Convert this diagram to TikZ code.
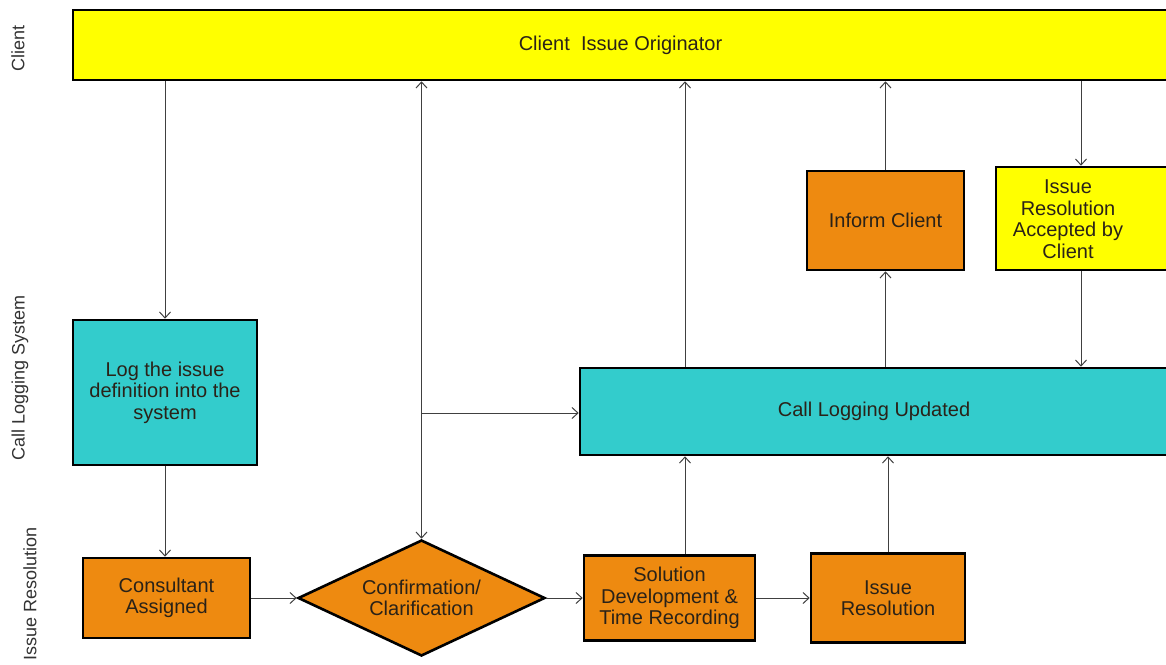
\documentclass[tikz,border=0pt]{standalone}
\usepackage{fontspec}
\setmainfont{Liberation Sans}
\usetikzlibrary{arrows.meta,shapes.geometric}
\definecolor{cyel}{HTML}{FFFF00}
\definecolor{ccyan}{HTML}{33CCCC}
\definecolor{corange}{HTML}{EE8A10}
\definecolor{ctext}{HTML}{2A2218}
\definecolor{carrow}{HTML}{404040}
\tikzset{
  box/.style={draw=black, line width=2.6pt, rectangle, inner sep=0pt, align=center,
    font=\fontsize{20}{21.5}\selectfont, text=ctext},
  ybox/.style={box, fill=cyel},
  cbox/.style={box, fill=ccyan},
  obox/.style={box, fill=corange},
  lane/.style={rotate=90, font=\fontsize{18}{20}\selectfont, text=black!80},
  arr/.style={draw=carrow, line width=1pt, -{Straight Barb[length=6pt,width=11pt]}},
  darr/.style={draw=carrow, line width=1pt, {Straight Barb[length=6pt,width=11pt]}-{Straight Barb[length=6pt,width=11pt]}},
}
\begin{document}
\begin{tikzpicture}[x=1pt,y=-1pt]
\useasboundingbox (0,0) rectangle (1166,664);
\clip (0,0) rectangle (1166,664);
\fill[white] (0,0) rectangle (1166,664);

% lane labels
\node[lane] (lclient) at (18,48) {Client};
\node[lane] (llog) at (20,378) {Call Logging System};
\node[lane] (lres) at (30,594) {Issue Resolution};

% nodes
\node[ybox, minimum width=1095pt, minimum height=70pt] (client) at (620.5,45) {\raisebox{-5pt}{Client\ \ Issue Originator}};
\node[cbox, minimum width=184pt, minimum height=145pt] (log) at (165,392.5) {Log the issue\\definition into the\\system};
\node[obox, minimum width=167pt, minimum height=80pt] (cons) at (166.5,598) {Consultant\\Assigned};
\node[obox, diamond, aspect=2.1, minimum width=247pt, minimum height=116pt] (conf) at (421.5,598) {Confirmation/\\Clarification};
\node[obox, minimum width=171pt, minimum height=85pt] (sol) at (669.5,598) {Solution\\Development \&\\Time Recording};
\node[obox, minimum width=154pt, minimum height=89pt] (ires) at (888,598) {Issue\\Resolution};
\node[cbox, minimum width=588pt, minimum height=87pt] (clu) at (874,411.5) {Call Logging Updated};
\node[obox, minimum width=157pt, minimum height=99pt] (inf) at (885.5,220.5) {Inform Client};
\node[ybox, minimum width=172pt, minimum height=103pt] (acc) at (1082,218.5) {};
\node[align=center, font=\fontsize{20}{21.5}\selectfont, text=ctext] (acct) at (1068,219) {Issue\\Resolution\\Accepted by\\Client};

% connectors
\draw[arr] (client.south -| log.north) -- (log.north);
\draw[arr] (log.south) -- (log.south |- cons.north);
\draw[arr] (cons.east) -- (conf.west);
\draw[arr] (conf.east) -- (sol.west);
\draw[arr] (sol.east) -- (ires.west);
\draw[darr] (client.south -| conf.north) -- (conf.north);
\coordinate (branch) at (421.5,413);
\draw[arr] (branch) -- (branch -| clu.west);
\draw[arr] (sol.north -| 685,0) -- (clu.south -| 685,0);
\draw[arr] (ires.north) -- (clu.south -| ires.north);
\draw[arr] (clu.north -| 685,0) -- (client.south -| 685,0);
\draw[arr] (clu.north -| inf.south) -- (inf.south);
\draw[arr] (inf.north) -- (client.south -| inf.north);
\draw[arr] (client.south -| 1081,0) -- (acc.north -| 1081,0);
\draw[arr] (acc.south -| 1081,0) -- (clu.north -| 1081,0);
\end{tikzpicture}
\end{document}
